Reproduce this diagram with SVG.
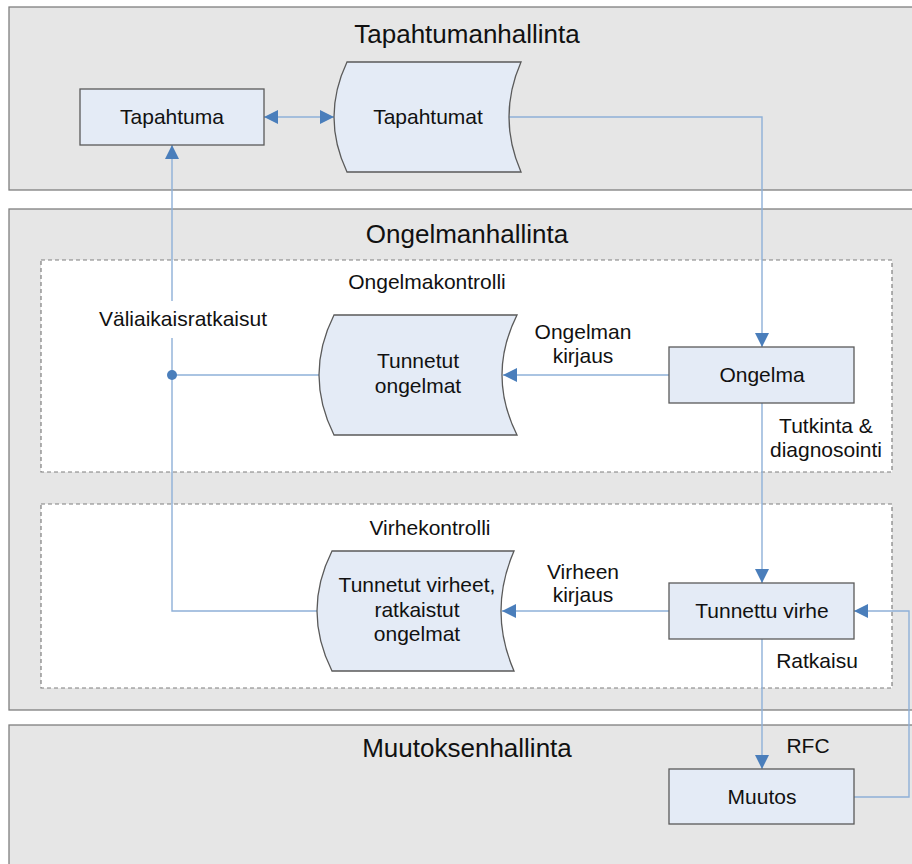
<svg xmlns="http://www.w3.org/2000/svg" width="912" height="864" viewBox="0 0 912 864">
  <style>
    .lane { fill: #e6e6e6; stroke: #7f7f7f; stroke-width: 1.3; }
    .ctrl { fill: #ffffff; stroke: #7f7f7f; stroke-width: 1.2; stroke-dasharray: 4 3; }
    .node { fill: #e4ebf6; stroke: #5a5a5a; stroke-width: 1.3; }
    .conn { fill: none; stroke: #8eb0d8; stroke-width: 1.4; }
    text { font-family: "Liberation Sans", Arial, sans-serif; fill: #111; text-anchor: middle; }
    .title { font-size: 26px; }
    .lbl { font-size: 21px; }
  </style>
  <defs>
    <marker id="arrow" markerUnits="userSpaceOnUse" markerWidth="15" markerHeight="14" refX="14" refY="7" orient="auto">
      <path d="M0,0 L14,7 L0,14 z" fill="#4a7ebb"/>
    </marker>
    <marker id="arrowStart" markerUnits="userSpaceOnUse" markerWidth="15" markerHeight="14" refX="0" refY="7" orient="auto">
      <path d="M14,0 L0,7 L14,14 z" fill="#4a7ebb"/>
    </marker>
  </defs>

  <!-- swimlanes -->
  <g id="lane-tapahtumanhallinta">
    <rect class="lane" x="9" y="7" width="910" height="183"/>
    <text class="title" x="467" y="43">Tapahtumanhallinta</text>
  </g>
  <g id="lane-ongelmanhallinta">
    <rect class="lane" x="9" y="209" width="910" height="501"/>
    <text class="title" x="467" y="243">Ongelmanhallinta</text>
  </g>
  <g id="lane-muutoksenhallinta">
    <rect class="lane" x="9" y="725" width="910" height="150"/>
    <text class="title" x="467" y="757">Muutoksenhallinta</text>
  </g>

  <!-- control areas -->
  <g id="ongelmakontrolli">
    <rect class="ctrl" x="41" y="260" width="851" height="212"/>
    <text class="lbl" x="427" y="289">Ongelmakontrolli</text>
  </g>
  <g id="virhekontrolli">
    <rect class="ctrl" x="41" y="504" width="851" height="184"/>
    <text class="lbl" x="430" y="535">Virhekontrolli</text>
  </g>

  <!-- connectors -->
  <g id="connectors">
    <path class="conn" d="M264,117 H334" marker-start="url(#arrowStart)" marker-end="url(#arrow)"/>
    <path class="conn" d="M509,117 H762 V347" marker-end="url(#arrow)"/>
    <path class="conn" d="M669,375 H503" marker-end="url(#arrow)"/>
    <path class="conn" d="M762,403 V583" marker-end="url(#arrow)"/>
    <path class="conn" d="M669,611 H502" marker-end="url(#arrow)"/>
    <path class="conn" d="M317,611 H172 V338 M172,301 V145" marker-end="url(#arrow)"/>
    <path class="conn" d="M319,375 H172"/>
    <circle cx="172" cy="375" r="5" fill="#4a7ebb"/>
    <path class="conn" d="M762,639 V769" marker-end="url(#arrow)"/>
    <path class="conn" d="M854,797 H909 V611 H854" marker-end="url(#arrow)"/>
    <text class="lbl" x="183" y="326">Väliaikaisratkaisut</text>
    <text class="lbl" x="583" y="339">Ongelman</text>
    <text class="lbl" x="583" y="363">kirjaus</text>
    <text class="lbl" x="826" y="433">Tutkinta &amp;</text>
    <text class="lbl" x="826" y="457">diagnosointi</text>
    <text class="lbl" x="583" y="579">Virheen</text>
    <text class="lbl" x="583" y="602">kirjaus</text>
    <text class="lbl" x="817" y="668">Ratkaisu</text>
    <text class="lbl" x="808" y="753">RFC</text>
  </g>

  <!-- nodes -->
  <g id="tapahtuma">
    <rect class="node" x="80" y="89" width="184" height="56"/>
    <text class="lbl" x="172" y="124">Tapahtuma</text>
  </g>
  <g id="tapahtumat">
    <path class="node" d="M347,62 H521 Q497,117 521,172 H347 Q321,117 347,62 Z"/>
    <text class="lbl" x="428" y="124">Tapahtumat</text>
  </g>
  <g id="tunnetut-ongelmat">
    <path class="node" d="M334,315 H517 Q487,375 517,435 H334 Q304,375 334,315 Z"/>
    <text class="lbl" x="418" y="368">Tunnetut</text>
    <text class="lbl" x="418" y="393">ongelmat</text>
  </g>
  <g id="ongelma">
    <rect class="node" x="669" y="347" width="185" height="56"/>
    <text class="lbl" x="762" y="382">Ongelma</text>
  </g>
  <g id="tunnetut-virheet">
    <path class="node" d="M332,551 H514 Q488,611 514,671 H332 Q302,611 332,551 Z"/>
    <text class="lbl" x="417" y="592">Tunnetut virheet,</text>
    <text class="lbl" x="417" y="617">ratkaistut</text>
    <text class="lbl" x="417" y="641">ongelmat</text>
  </g>
  <g id="tunnettu-virhe">
    <rect class="node" x="669" y="583" width="185" height="56"/>
    <text class="lbl" x="762" y="618">Tunnettu virhe</text>
  </g>
  <g id="muutos">
    <rect class="node" x="669" y="769" width="185" height="55"/>
    <text class="lbl" x="762" y="804">Muutos</text>
  </g>
</svg>
